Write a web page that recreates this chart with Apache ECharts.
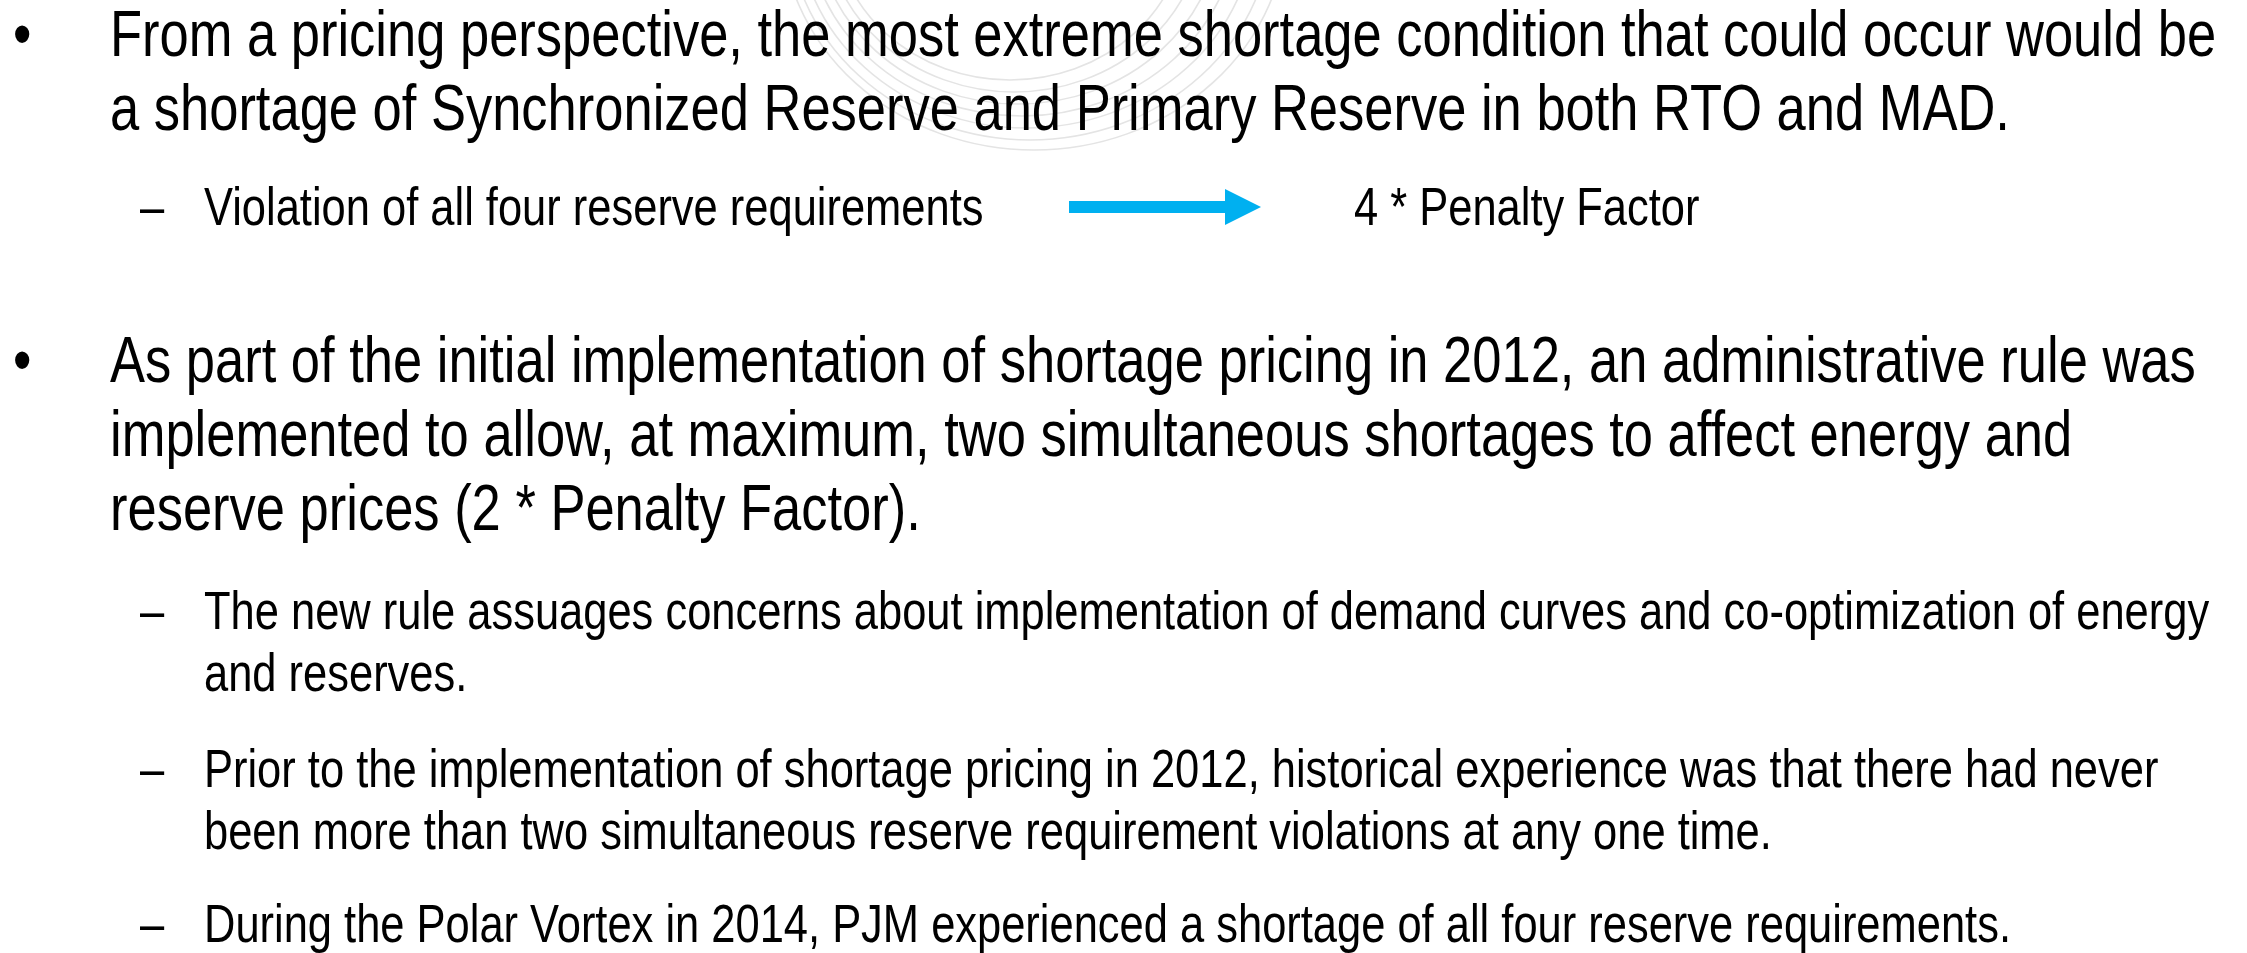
<!DOCTYPE html>
<html>
<head>
<meta charset="utf-8">
<title>Shortage pricing</title>
<script src="https://cdn.jsdelivr.net/npm/echarts@6/dist/echarts.min.js"></script>
<style>
  html, body { margin: 0; padding: 0; background: #fff; }
  #main { width: 2247px; height: 953px; }
</style>
</head>
<body>
<div id="main"></div>
<script>
// slide text
const bullet1Lines = [
  'From a pricing perspective, the most extreme shortage condition that could occur would be',
  'a shortage of Synchronized Reserve and Primary Reserve in both RTO and MAD.'
]
const shortageNote = 'Violation of all four reserve requirements'
const shortageResult = '4 * Penalty Factor'
const bullet2Lines = [
  'As part of the initial implementation of shortage pricing in 2012, an administrative rule was',
  'implemented to allow, at maximum, two simultaneous shortages to affect energy and',
  'reserve prices (2 * Penalty Factor).'
]
const subPoints = [
  ['The new rule assuages concerns about implementation of demand curves and co-optimization of energy',
   'and reserves.'],
  ['Prior to the implementation of shortage pricing in 2012, historical experience was that there had never',
   'been more than two simultaneous reserve requirement violations at any one time.'],
  ['During the Polar Vortex in 2014, PJM experienced a shortage of all four reserve requirements.']
]
// watermark rings (radii)
const rings = [160, 172, 184, 196, 208, 220, 230]

// pick a narrow font if there is one, else squeeze the regular one
const ctx = document.createElement('canvas').getContext('2d')
ctx.font = '100px "Liberation Sans Narrow", monospace'
const w1 = ctx.measureText('abcdefghijklm').width
ctx.font = '100px monospace'
const w2 = ctx.measureText('abcdefghijklm').width
const hasNarrow = Math.abs(w1 - w2) > 1
const family = hasNarrow ? '"Liberation Sans Narrow", "Arial Narrow", sans-serif' : '"Liberation Sans", Arial, sans-serif'
const sx = hasNarrow ? 1 : 0.82

const MAIN = 64
const SUB = 53
const K = 0.22

function txt(str, x, baseline, size) {
  return {
    type: 'text',
    x: x,
    y: baseline - size * K,
    scaleX: sx,
    silent: true,
    z: 10,
    style: {
      text: str,
      font: size + 'px ' + family,
      fill: '#000',
      align: 'left',
      verticalAlign: 'middle'
    }
  }
}

const elements = []

// faint logo watermark behind the title lines
rings.forEach((r, i) => {
  elements.push({
    type: 'circle',
    x: 1010 + i * 4,
    y: -80,
    scaleX: 1.1,
    silent: true,
    z: 1,
    shape: { cx: 0, cy: 0, r: r },
    style: { fill: 'none', stroke: '#e4e4e4', lineWidth: 1.5, strokeNoScale: true }
  })
})

// first bullet
const b1Base = [52, 126]
elements.push(txt('•', 13, b1Base[0], MAIN))
bullet1Lines.forEach((l, i) => elements.push(txt(l, 110, b1Base[i], MAIN)))

// sub bullet with arrow
const noteBase = 222
elements.push(txt('–', 140, noteBase, SUB))
elements.push(txt(shortageNote, 204, noteBase, SUB))
elements.push({
  type: 'rect', silent: true, z: 5,
  shape: { x: 1069, y: 201, width: 158, height: 12 },
  style: { fill: '#00B0F0' }
})
elements.push({
  type: 'polygon', silent: true, z: 5,
  shape: { points: [[1225, 189], [1261, 207], [1225, 225]] },
  style: { fill: '#00B0F0' }
})
elements.push(txt(shortageResult, 1354, noteBase, SUB))

// second bullet
const b2Base = [378, 452, 526]
elements.push(txt('•', 13, b2Base[0], MAIN))
bullet2Lines.forEach((l, i) => elements.push(txt(l, 110, b2Base[i], MAIN)))

// sub points
const subBase = [[626, 688], [784, 846], [939]]
subPoints.forEach((p, j) => {
  elements.push(txt('–', 140, subBase[j][0], SUB))
  p.forEach((l, i) => elements.push(txt(l, 204, subBase[j][i], SUB)))
})

const chart = echarts.init(document.getElementById('main'))
chart.setOption({
  backgroundColor: '#fff',
  animation: false,
  graphic: { elements: elements }
})
</script>
</body>
</html>
